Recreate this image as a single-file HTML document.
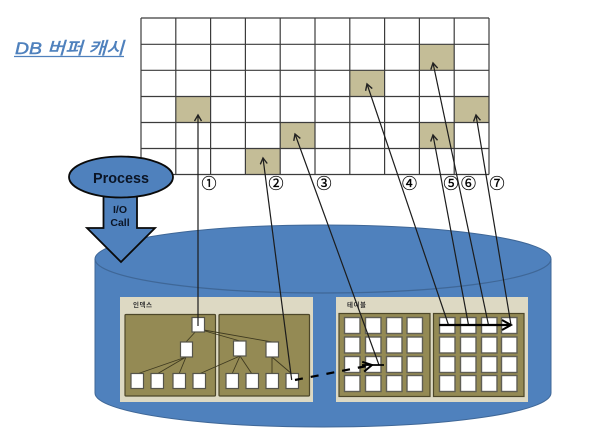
<!DOCTYPE html>
<html><head><meta charset="utf-8"><style>
html,body{margin:0;padding:0;background:#fff;width:600px;height:446px;overflow:hidden}
svg{display:block;filter:blur(.3px)}
text{font-family:"Liberation Sans","Noto Sans CJK KR",sans-serif}
</style></head><body>
<svg xmlns="http://www.w3.org/2000/svg" width="600" height="446" viewBox="0 0 600 446">
<defs>
<marker id="o" markerUnits="userSpaceOnUse" markerWidth="10" markerHeight="10" refX="7" refY="4" orient="auto"><path d="M1 .5L7 4L1 7.5" fill="none" stroke="#222" stroke-width="1.4"/></marker>
<marker id="t" markerUnits="userSpaceOnUse" markerWidth="14" markerHeight="14" refX="10" refY="6" orient="auto"><path d="M1 1L10 6L1 11" fill="none" stroke="#000" stroke-width="2"/></marker>
</defs>
<!-- title -->
<text x="15" y="54" font-size="17" font-style="italic" fill="#4f81bd" stroke="#4f81bd" stroke-width=".5" textLength="109" lengthAdjust="spacingAndGlyphs">DB 버퍼 캐시</text>
<line x1="14" y1="56.5" x2="124" y2="56.5" stroke="#4f81bd" stroke-width="1.3"/>
<!-- filled cells -->
<g fill="#c4bd97">
<rect x="176" y="96.5" width="34.5" height="26"/>
<rect x="245.5" y="148.5" width="34.5" height="26"/>
<rect x="280" y="122.5" width="35" height="26"/>
<rect x="350" y="70.5" width="35" height="26"/>
<rect x="419.5" y="44.5" width="35" height="26"/>
<rect x="419.5" y="122.5" width="35" height="26"/>
<rect x="454.5" y="96.5" width="34.5" height="26"/>
</g>
<!-- grid -->
<g stroke="#3c3c3c" stroke-width="1.2" fill="none">
<path d="M141 18V174.5M175.8 18V174.5M210.6 18V174.5M245.4 18V174.5M280.2 18V174.5M315 18V174.5M349.8 18V174.5M384.6 18V174.5M419.4 18V174.5M454.2 18V174.5M489 18V174.5"/>
<path d="M141 18H489M141 44.3H489M141 70.3H489M141 96.5H489M141 122.5H489M141 148.5H489M141 174.5H489"/>
</g>
<!-- circled numbers -->
<g font-size="15" fill="#000" stroke="#000" stroke-width=".3" text-anchor="middle">
<text x="209" y="188.5">①</text>
<text x="276" y="188.5">②</text>
<text x="324" y="188.5">③</text>
<text x="409.5" y="188.5">④</text>
<text x="451" y="188.5">⑤</text>
<text x="468.5" y="188.5">⑥</text>
<text x="497" y="188.5">⑦</text>
</g>
<!-- cylinder -->
<path d="M95 259C95 240 197 225 323 225S551 240 551 259V393C551 412 449 427 323 427S95 412 95 393Z" fill="#4f81bd" stroke="#3f6797" stroke-width="1"/>
<path d="M95 259C95 278 197 293 323 293S551 278 551 259" fill="none" stroke="#3f6797" stroke-width="1.2"/>
<!-- process -->
<path d="M103.5 190V228H87L121 262L155 228H137V190Z" fill="#4f81bd" stroke="#0a0a0a" stroke-width="1.8"/>
<ellipse cx="121" cy="177" rx="52" ry="20.5" fill="#4f81bd" stroke="#0a0a0a" stroke-width="1.8"/>
<text x="93" y="183" font-size="15" font-weight="bold" fill="#0b1526" textLength="56" lengthAdjust="spacingAndGlyphs">Process</text>
<g font-size="10.5" font-weight="bold" fill="#0b1526" text-anchor="middle">
<text x="120" y="213">I/O</text>
<text x="120" y="226">Call</text>
</g>
<!-- index panel -->
<rect x="120" y="297" width="193" height="105" fill="#ddd9c3"/>
<text x="133" y="307" font-size="6.5" font-weight="bold" fill="#333" textLength="19">인덱스</text>
<g fill="#948a54" stroke="#4d4729" stroke-width="1.2">
<rect x="125" y="314.5" width="90.5" height="81.5" rx="1"/>
<rect x="219" y="314.5" width="90.5" height="81.5" rx="1"/>
</g>
<g stroke="#3f3a20" stroke-width=".9" fill="none">
<path d="M198 329L186 342M198 329L240 341M198 329L272 342"/>
<path d="M186 357L137 374M186 357L157 374M186 357L179 374M240 356L199 374M240 356L232 374M240 356L252 374M272 357V374M272 357L292 374"/>
</g>
<g fill="#fff" stroke="#55544a" stroke-width="1.2">
<rect x="192" y="317.5" width="12.5" height="14.5"/>
<rect x="180.5" y="342" width="12" height="15"/>
<rect x="233.5" y="341" width="12.5" height="15"/>
<rect x="266" y="342" width="12.5" height="15"/>
<rect x="131" y="373.5" width="12.5" height="15"/>
<rect x="151" y="373.5" width="12.5" height="15"/>
<rect x="173" y="373.5" width="12.5" height="15"/>
<rect x="193" y="373.5" width="12.5" height="15"/>
<rect x="226" y="373.5" width="12.5" height="15"/>
<rect x="246" y="373.5" width="12.5" height="15"/>
<rect x="266" y="373.5" width="12.5" height="15"/>
<rect x="286" y="373.5" width="12.5" height="15"/>
</g>
<!-- table panel -->
<rect x="336" y="297" width="192" height="105" fill="#ddd9c3"/>
<text x="347" y="307" font-size="6.5" font-weight="bold" fill="#333" textLength="19">테이블</text>
<g fill="#948a54" stroke="#4d4729" stroke-width="1.2">
<rect x="339" y="313.5" width="91" height="83"/>
<rect x="433.5" y="313.5" width="90.5" height="83"/>
</g>
<g fill="#fff" stroke="#5f5e55" stroke-width="1.4">
<rect x="344.5" y="317.5" width="15.5" height="16"/><rect x="365.5" y="317.5" width="15.5" height="16"/><rect x="386.5" y="317.5" width="15.5" height="16"/><rect x="407" y="317.5" width="15.5" height="16"/>
<rect x="344.5" y="337" width="15.5" height="16"/><rect x="365.5" y="337" width="15.5" height="16"/><rect x="386.5" y="337" width="15.5" height="16"/><rect x="407" y="337" width="15.5" height="16"/>
<rect x="344.5" y="356.5" width="15.5" height="16"/><rect x="365.5" y="356.5" width="15.5" height="16"/><rect x="386.5" y="356.5" width="15.5" height="16"/><rect x="407" y="356.5" width="15.5" height="16"/>
<rect x="344.5" y="375.5" width="15.5" height="16"/><rect x="365.5" y="375.5" width="15.5" height="16"/><rect x="386.5" y="375.5" width="15.5" height="16"/><rect x="407" y="375.5" width="15.5" height="16"/>
<rect x="439.5" y="317.5" width="15.5" height="16"/><rect x="460.5" y="317.5" width="15.5" height="16"/><rect x="481.5" y="317.5" width="15.5" height="16"/><rect x="501.5" y="317.5" width="15.5" height="16"/>
<rect x="439.5" y="337" width="15.5" height="16"/><rect x="460.5" y="337" width="15.5" height="16"/><rect x="481.5" y="337" width="15.5" height="16"/><rect x="501.5" y="337" width="15.5" height="16"/>
<rect x="439.5" y="356.5" width="15.5" height="16"/><rect x="460.5" y="356.5" width="15.5" height="16"/><rect x="481.5" y="356.5" width="15.5" height="16"/><rect x="501.5" y="356.5" width="15.5" height="16"/>
<rect x="439.5" y="375.5" width="15.5" height="16"/><rect x="460.5" y="375.5" width="15.5" height="16"/><rect x="481.5" y="375.5" width="15.5" height="16"/><rect x="501.5" y="375.5" width="15.5" height="16"/>
</g>
<!-- pointer arrows -->
<g stroke="#1c1c1c" stroke-width="1.2" fill="none">
<line x1="198" y1="326" x2="198" y2="115" marker-end="url(#o)"/>
<line x1="291.7" y1="380" x2="263" y2="158" marker-end="url(#o)"/>
<line x1="379" y1="365" x2="295" y2="134" marker-end="url(#o)"/>
<line x1="448.5" y1="325" x2="367" y2="84" marker-end="url(#o)"/>
<line x1="468.5" y1="325" x2="433" y2="135" marker-end="url(#o)"/>
<line x1="488.5" y1="325" x2="433" y2="63" marker-end="url(#o)"/>
<line x1="511" y1="325" x2="476" y2="115" marker-end="url(#o)"/>
</g>
<!-- thick arrows -->
<line x1="295" y1="380" x2="372" y2="365" stroke="#000" stroke-width="2.2" stroke-dasharray="8 8" marker-end="url(#t)"/>
<line x1="362" y1="365" x2="384" y2="365" stroke="#000" stroke-width="1.8"/>
<line x1="439" y1="325" x2="511" y2="325" stroke="#000" stroke-width="2.2" marker-end="url(#t)"/>
</svg>
</body></html>
